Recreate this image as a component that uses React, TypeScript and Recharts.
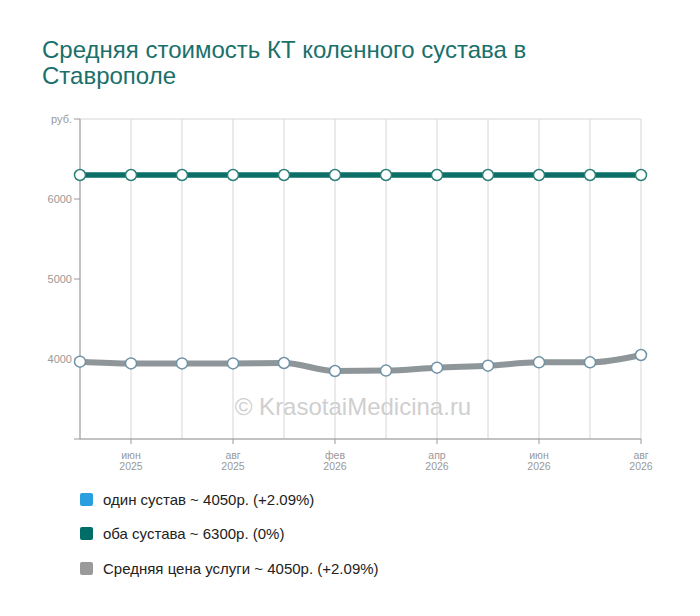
import React from "react";
import { LineChart, Line, XAxis, YAxis, CartesianGrid } from "recharts";

const categories = [
  "май 2025", "июн 2025", "июл 2025", "авг 2025", "дек 2025", "фев 2026",
  "мар 2026", "апр 2026", "май 2026", "июн 2026", "июл 2026", "авг 2026",
];
const oneJoint = [3967, 3945, 3945, 3945, 3950, 3850, 3855, 3892, 3917, 3958, 3958, 4050];
const bothJoints = [6300, 6300, 6300, 6300, 6300, 6300, 6300, 6300, 6300, 6300, 6300, 6300];
const avgPrice = [3967, 3945, 3945, 3945, 3950, 3850, 3855, 3892, 3917, 3958, 3958, 4050];
const yTicks = [3000, 4000, 5000, 6000, 7000];
const gridTicks = [4000, 5000, 6000];

const legendItems = [
  { color: "#2a9fe0", label: "один сустав ~ 4050р. (+2.09%)" },
  { color: "#006d66", label: "оба сустава ~ 6300р. (0%)" },
  { color: "#9a9a9a", label: "Средняя цена услуги ~ 4050р. (+2.09%)" },
];

const data = categories.map((c, i) => ({
  month: c,
  one: oneJoint[i],
  both: bothJoints[i],
  avg: avgPrice[i],
}));

const XTick = (props: any) => {
  const { x, y, payload, index } = props;
  if (index % 2 === 0) return null;
  const [m, yr] = String(payload.value).split(" ");
  return (
    <g>
      <line x1={x} x2={x} y1={y - 8} y2={y - 3} stroke="#999" />
      <text x={x} y={y + 12} textAnchor="middle" fontSize={10.5} fill="#999" fontFamily="Liberation Sans, Arial, sans-serif">
        <tspan x={x} dy={0}>{m}</tspan>
        <tspan x={x} dy={11}>{yr}</tspan>
      </text>
    </g>
  );
};

export default function App() {
  return (
    <div style={{ position: "absolute", left: 0, top: 0, width: 700, height: 616, background: "#fff", fontFamily: "Liberation Sans, Arial, sans-serif" }}>
      <div style={{ position: "absolute", left: 42, top: 37, width: 520, fontSize: 24, lineHeight: "26px", color: "#1a706b" }}>
        Средняя стоимость КТ коленного сустава в Ставрополе
      </div>
      <div style={{ position: "absolute", left: 0, top: 0 }}>
        <LineChart width={700} height={480} data={data} margin={{ top: 119, right: 59, left: 40, bottom: 1 }}>
          <CartesianGrid stroke="#d6d6d6" vertical={true} yAxisId="grid" />
          <XAxis
            dataKey="month"
            interval={0}
            tickLine={false}
            axisLine={{ stroke: "#999" }}
            tick={<XTick />}
            height={40}
            padding={{ left: 0, right: 0 }}
          />
          <YAxis
            yAxisId="main"
            domain={[3000, 7000]}
            ticks={yTicks}
            width={40}
            axisLine={{ stroke: "#999" }}
            tickLine={{ stroke: "#999" }}
            tick={{ fontSize: 11, fill: "#999" }}
            tickFormatter={(v: number) => (v === 7000 ? "руб." : v === 3000 ? "" : String(v))}
          />
          <YAxis
            yAxisId="grid"
            orientation="right"
            domain={[3000, 7000]}
            ticks={gridTicks}
            width={0}
            axisLine={false}
            tickLine={false}
            tick={false}
          />
          <Line
            yAxisId="main"
            type="monotone"
            dataKey="one"
            stroke="#7fb5d8"
            strokeWidth={2}
            dot={false}
            isAnimationActive={false}
          />
          <Line
            yAxisId="main"
            type="monotone"
            dataKey="avg"
            stroke="#8e9699"
            strokeWidth={6}
            dot={{ r: 5.5, fill: "#fff", stroke: "#6f92a6", strokeWidth: 1.5 }}
            isAnimationActive={false}
          />
          <Line
            yAxisId="main"
            type="linear"
            dataKey="both"
            stroke="#0b6e67"
            strokeWidth={5.5}
            dot={{ r: 5.5, fill: "#fff", stroke: "#2b7f79", strokeWidth: 1.5 }}
            isAnimationActive={false}
          />
        </LineChart>
      </div>
      <div style={{ position: "absolute", left: 0, width: 706, top: 393, textAlign: "center", fontSize: 24, color: "#cfcfcf" }}>
        © KrasotaiMedicina.ru
      </div>
      {legendItems.map((item, i) => (
        <div key={i} style={{ position: "absolute", left: 80, top: 489 + i * 34.5, height: 20, display: "flex", alignItems: "center" }}>
          <div style={{ width: 13, height: 13, borderRadius: 2, background: item.color }} />
          <span style={{ marginLeft: 10, fontSize: 15, color: "#222" }}>{item.label}</span>
        </div>
      ))}
    </div>
  );
}
